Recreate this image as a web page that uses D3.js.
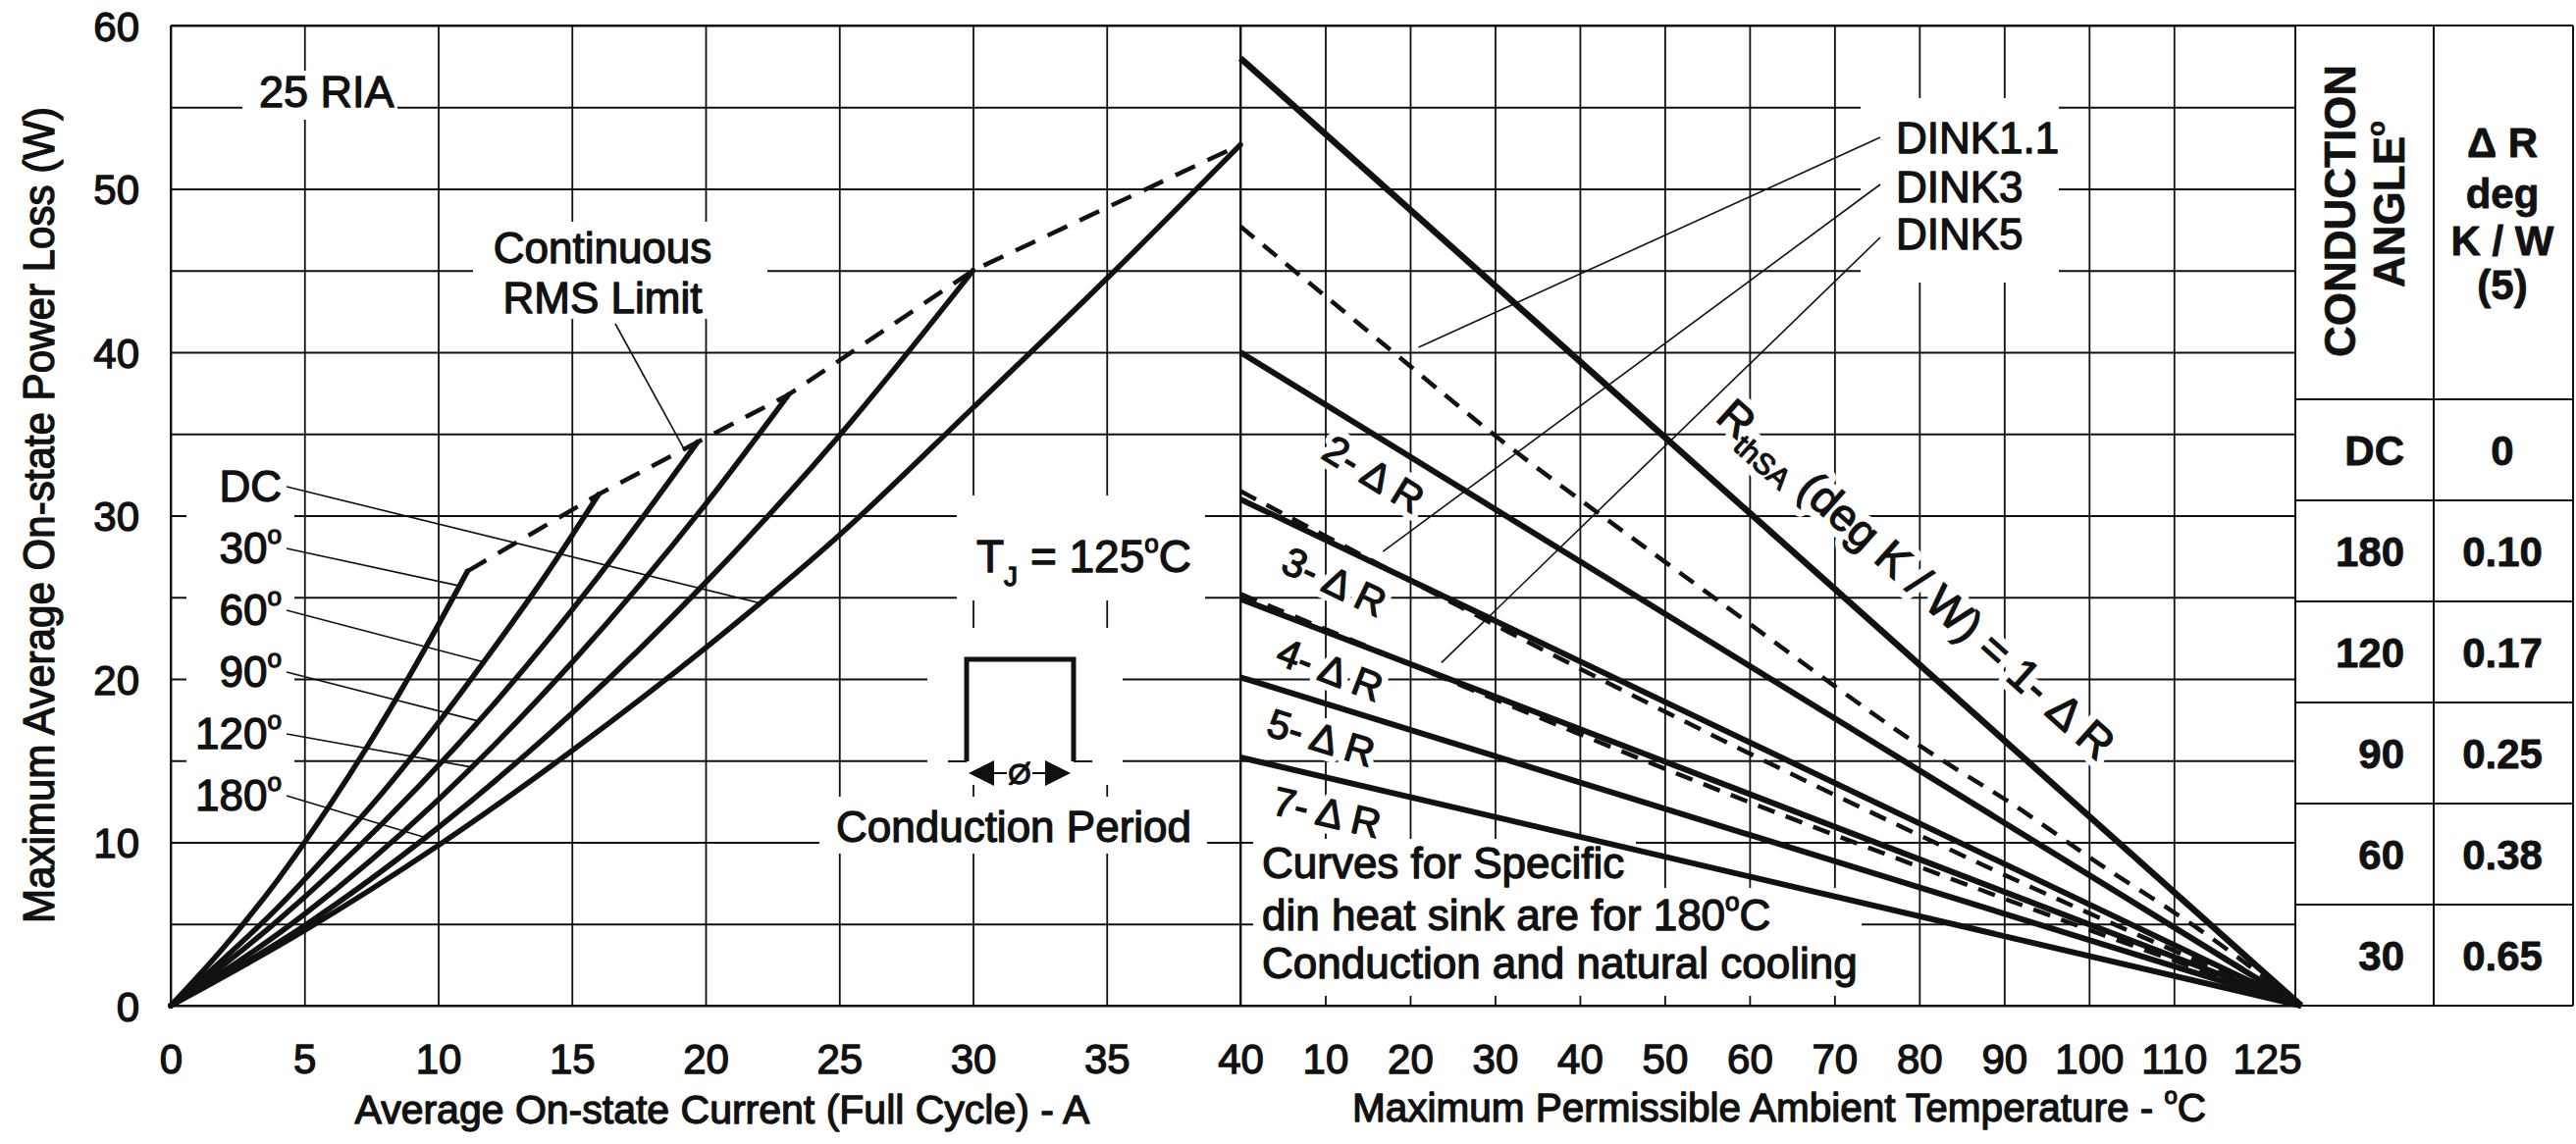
<!DOCTYPE html>
<html>
<head>
<meta charset="utf-8">
<script src="https://cdn.jsdelivr.net/npm/d3@7/dist/d3.min.js"></script>
<style>
html,body{margin:0;padding:0;background:#fff;}
svg{display:block;}
</style>
</head>
<body>
<svg id="chart" width="2625" height="1166"></svg>
<script>
// ======================= DATA =======================
// Left panel: Average on-state current (A) vs max average on-state power loss (W)
const currentGrid = [0, 5, 10, 15, 20, 25, 30, 35, 40];
const currentTickLabels = [0, 5, 10, 15, 20, 25, 30, 35, 40];
const powerGrid = [0, 5, 10, 15, 20, 25, 30, 35, 40, 45, 50, 55, 60];
const powerTickLabels = [0, 10, 20, 30, 40, 50, 60];

const angleNames = ["DC", "30", "60", "90", "120", "180"];
const lossDC  = [[0,0],[5,4.6],[10,9.8],[15,15.6],[20,21.9],[25,28.8],[30,36.6],[35,44.5],[40,52.7]];
const loss30  = [[0,0],[2,3.6],[4,7.7],[6,12.4],[8,17.6],[10,23.3],[11.1,26.6]];
const loss60  = [[0,0],[2,2.9],[4,6.0],[6,9.5],[8,13.2],[10,17.3],[12,21.7],[14,26.3],[16.0,31.3]];
const loss90  = [[0,0],[4,5.2],[8,11.3],[12,18.3],[16,26.3],[19.7,34.5]];
const loss120 = [[0,0],[5,5.6],[10,12.6],[15,21.0],[20,30.7],[23.1,37.4]];
const loss180 = [[0,0],[5,4.9],[10,10.9],[15,17.9],[20,25.9],[25,34.9],[30,45.0]];
const rmsLimit = [[11.1,26.6],[16.0,31.3],[19.7,34.5],[23.1,37.4],[30,45.0],[40,52.7]];
const angleLeaderCurrent = [22, 10.8, 11.7, 11.5, 11.2, 9.5];
const rmsLeaderCurrent = 19.2;

// Right panel: maximum permissible ambient temperature (°C)
const ambientGrid = [10, 20, 30, 40, 50, 60, 70, 80, 90, 100, 110];
const ambientTickValues = [10, 20, 30, 40, 50, 60, 70, 80, 90, 100, 110, 125];
const sinkMultipliers = ["1", "2", "3", "4", "5", "7"];
const sinkPowerAtZero = [58.0, 40.0, 31.0, 24.9, 20.1, 15.2];
const sinkZeroTemp = 125;
const dinkNames = ["DINK1.1", "DINK3", "DINK5"];
const dink11 = [[0,47.7],[19,39.6],[30,34.8],[42,30.2],[60,23.4],[80,15.7],[91,12.5],[101,8.6],[112,5.2],[125,0]];
const dink3  = [[0,31.5],[20,26.0],[40,20.6],[60,15.4],[80,10.4],[100,5.6],[125,0]];
const dink5  = [[0,25.2],[20,20.9],[40,16.6],[60,12.4],[80,8.5],[100,4.6],[125,0]];
const dinkLeaderEnds = [[21,40.3],[16.8,27.8],[23.7,21.0]];
const sinkLabelTemp = [17.8, 12.8, 12.0, 10.7, 11.1];

// Table
const tableAngles = ["DC", "180", "120", "90", "60", "30"];
const tableDeltaR = ["0", "0.10", "0.17", "0.25", "0.38", "0.65"];

// ======================= LAYOUT =======================
const FONT = '"Liberation Sans", Arial, Helvetica, sans-serif';
const INK = "#111";
const TW = 1.3; // text stroke for the heavy scanned look
const xL = d3.scaleLinear().domain([0, 40]).range([174, 1264]);
const xR = d3.scaleLinear().domain([0, 125]).range([1264, 2345]);
const y  = d3.scaleLinear().domain([0, 60]).range([1025, 26]);
const plotRight = 2339, tableMid = 2480, tableRight = 2622, headerBottom = 407;

const svg = d3.select("#chart");
svg.append("rect").attr("width", 2625).attr("height", 1166).attr("fill", "#fff");

function txt(parent, x, yy, str, size, anchor, weight) {
  return parent.append("text").attr("x", x).attr("y", yy)
    .attr("font-family", FONT).attr("font-size", size)
    .attr("font-weight", weight || "normal")
    .attr("text-anchor", anchor || "start")
    .attr("fill", INK).attr("stroke", INK).attr("stroke-width", TW)
    .attr("stroke-linejoin", "round")
    .text(str);
}
function sup(t, s, size, dy) {
  t.append("tspan").attr("font-size", size).attr("dy", dy).text(s);
}
function interp(pts, x) {
  for (let i = 1; i < pts.length; i++) {
    if (x <= pts[i][0]) {
      const [x0, y0] = pts[i-1], [x1, y1] = pts[i];
      return y0 + (y1 - y0) * (x - x0) / (x1 - x0);
    }
  }
  return pts[pts.length-1][1];
}

// ---------- grid ----------
const grid = svg.append("g");
grid.append("g").attr("transform", `translate(${xL(0)},0)`)
  .call(d3.axisLeft(y).tickValues(powerGrid).tickSize(-(plotRight - xL(0))).tickFormat(""))
  .call(g => g.select(".domain").remove());
grid.append("g").attr("transform", `translate(0,${y(0)})`)
  .call(d3.axisBottom(xL).tickValues(currentGrid).tickSize(-(y(0) - y(60))).tickFormat(""))
  .call(g => g.select(".domain").remove());
grid.append("g").attr("transform", `translate(0,${y(0)})`)
  .call(d3.axisBottom(xR).tickValues(ambientGrid).tickSize(-(y(0) - y(60))).tickFormat(""))
  .call(g => g.select(".domain").remove());
grid.selectAll("line").attr("stroke", INK).attr("stroke-width", 1.8);

// frame
const frame = svg.append("g").attr("stroke", INK).attr("stroke-width", 2).attr("fill", "none");
frame.append("line").attr("x1", xL(0)).attr("x2", tableRight).attr("y1", y(60)).attr("y2", y(60));
frame.append("line").attr("x1", xL(0)).attr("x2", tableRight).attr("y1", y(0)).attr("y2", y(0));
frame.append("line").attr("x1", xL(0)).attr("x2", xL(0)).attr("y1", y(60)).attr("y2", y(0));
frame.append("line").attr("x1", xL(40)).attr("x2", xL(40)).attr("y1", y(60)).attr("y2", y(0));

// ---------- knockouts (white label backgrounds) ----------
const knockouts = [
  [247, 72, 158, 50], [482, 226, 300, 99], [190, 462, 110, 373],
  [975, 505, 253, 107], [945, 640, 199, 160], [835, 812, 395, 58],
  [1896, 100, 202, 188], [1277, 855, 390, 50], [1277, 905, 620, 110]
];
svg.append("g").selectAll("rect").data(knockouts).join("rect")
  .attr("x", d => d[0]).attr("y", d => d[1]).attr("width", d => d[2]).attr("height", d => d[3])
  .attr("fill", "#fff");

// ---------- table ----------
const rowBand = d3.scaleBand().domain(tableAngles).range([headerBottom, y(0)]);
const tbl = svg.append("g");
tbl.append("g").attr("stroke", INK).attr("stroke-width", 2)
  .selectAll("line").data([plotRight, tableMid, tableRight]).join("line")
  .attr("x1", d => d).attr("x2", d => d).attr("y1", y(60)).attr("y2", y(0));
tbl.append("g").attr("stroke", INK).attr("stroke-width", 2)
  .selectAll("line").data(tableAngles).join("line")
  .attr("x1", plotRight).attr("x2", tableRight)
  .attr("y1", d => rowBand(d)).attr("y2", d => rowBand(d));
tableAngles.forEach((a, i) => {
  const cy = rowBand(a) + rowBand.bandwidth() / 2 + 15;
  txt(tbl, 2450, cy, a, 42, "end", "bold").attr("stroke-width", 0.8);
  txt(tbl, 2550, cy, tableDeltaR[i], 42, "middle", "bold").attr("stroke-width", 0.8);
});
txt(tbl, 0, 0, "CONDUCTION", 44, "middle", "bold").attr("stroke-width", 0.6)
  .attr("transform", "translate(2400,215) rotate(-90)");
{
  const t = txt(tbl, 0, 0, "ANGLE", 44, "middle", "bold").attr("stroke-width", 0.6)
    .attr("transform", "translate(2450,208) rotate(-90)");
  sup(t, "o", 26, -20);
}
["Δ R", "deg", "K / W", "(5)"].forEach((s, i) => {
  txt(tbl, 2550, [160, 212, 260, 305][i], s, 42, "middle", "bold").attr("stroke-width", 0.8);
});

// ---------- axes tick labels ----------
const axL = svg.append("g").attr("transform", `translate(${xL(0)},0)`)
  .call(d3.axisLeft(y).tickValues(powerTickLabels).tickSize(0));
axL.select(".domain").remove();
axL.selectAll("text").attr("x", -32).attr("dy", "0.36em");
const axB = svg.append("g").attr("transform", `translate(0,${y(0)})`)
  .call(d3.axisBottom(xL).tickValues(currentTickLabels).tickSize(0));
axB.select(".domain").remove();
axB.selectAll("text").attr("y", 69).attr("dy", null);
const axR = svg.append("g").attr("transform", `translate(0,${y(0)})`)
  .call(d3.axisBottom(xR).tickValues(ambientTickValues).tickSize(0).tickFormat(d3.format("d")));
axR.select(".domain").remove();
axR.selectAll("text").attr("y", 69).attr("dy", null)
  .attr("text-anchor", d => d === 125 ? "end" : "middle");
[axL, axB, axR].forEach(a => a.attr("font-family", FONT).attr("font-size", 42)
  .selectAll("text").attr("fill", INK).attr("stroke", INK).attr("stroke-width", TW));

// axis titles
txt(svg, 0, 0, "Maximum Average On-state Power Loss (W)", 45, "middle")
  .attr("textLength", 832).attr("lengthAdjust", "spacingAndGlyphs")
  .attr("transform", "translate(55,525) rotate(-90)");
txt(svg, 736, 1145, "Average On-state Current (Full Cycle) - A", 41, "middle");
{
  const t = txt(svg, 1813, 1143, "Maximum Permissible Ambient Temperature - ", 40.5, "middle");
  sup(t, "o", 24, -18);
  t.append("tspan").attr("dy", 18).text("C");
}

// ---------- right panel: halos for rotated labels ----------
const sinkLines = sinkPowerAtZero.map(p => [[0, p], [sinkZeroTemp, 0]]);
function lineAngle(p0) {
  return Math.atan2(y(0) - y(p0), xR(sinkZeroTemp) - xR(0));
}
function labelPos(p0, T, off) {
  const a = lineAngle(p0);
  const px = xR(T), py = y(p0 * (1 - T / sinkZeroTemp));
  return { x: px - Math.sin(a) * off, y: py + Math.cos(a) * off, deg: a * 180 / Math.PI };
}
const rot = svg.append("g");
function rthLabel() {
  const p = labelPos(sinkPowerAtZero[0], 52.2, -47);
  const t = rot.append("text").attr("font-family", FONT).attr("font-size", 46)
    .attr("transform", `translate(${p.x},${p.y}) rotate(${p.deg})`);
  t.append("tspan").text("R");
  t.append("tspan").attr("font-size", 30).attr("dy", 10).text("thSA");
  t.append("tspan").attr("dy", -10).text(` (deg K / W) = ${sinkMultipliers[0]}- Δ R`);
  return t;
}
function sinkLabel(i) {
  const p = labelPos(sinkPowerAtZero[i], sinkLabelTemp[i-1], 34);
  return rot.append("text").attr("font-family", FONT).attr("font-size", 41)
    .attr("text-anchor", "middle").attr("dy", "0.36em")
    .attr("transform", `translate(${p.x},${p.y}) rotate(${p.deg})`)
    .text(`${sinkMultipliers[i]}- Δ R`);
}
rthLabel().attr("fill", "#fff").attr("stroke", "#fff").attr("stroke-width", 16).attr("stroke-linejoin", "round");
for (let i = 1; i < sinkMultipliers.length; i++)
  sinkLabel(i).attr("fill", "#fff").attr("stroke", "#fff").attr("stroke-width", 14).attr("stroke-linejoin", "round");

// ---------- data lines ----------
const lineL = d3.line().x(d => xL(d[0])).y(d => y(d[1])).curve(d3.curveMonotoneX);
const lossCurves = [lossDC, loss30, loss60, loss90, loss120, loss180];
svg.append("g").selectAll("path").data(lossCurves).join("path")
  .attr("d", lineL).attr("fill", "none").attr("stroke", INK).attr("stroke-width", 5.5)
  .attr("stroke-linecap", "round");
svg.append("path").datum(rmsLimit)
  .attr("d", d3.line().x(d => xL(d[0])).y(d => y(d[1])))
  .attr("fill", "none").attr("stroke", INK).attr("stroke-width", 4.5).attr("stroke-dasharray", "22,14");

const lineR = d3.line().x(d => xR(d[0])).y(d => y(d[1]));
svg.append("g").selectAll("path").data(sinkLines).join("path")
  .attr("d", lineR).attr("fill", "none").attr("stroke", INK)
  .attr("stroke-width", (d, i) => i === 0 ? 6.5 : 6);
const lineRc = d3.line().x(d => xR(d[0])).y(d => y(d[1])).curve(d3.curveBasis);
svg.append("g").selectAll("path").data([dink11, dink3, dink5]).join("path")
  .attr("d", lineRc).attr("fill", "none").attr("stroke", INK).attr("stroke-width", 4.5)
  .attr("stroke-dasharray", "18,12");

// ---------- leaders ----------
const lead = svg.append("g").attr("stroke", INK).attr("stroke-width", 1.6);
angleNames.forEach((n, i) => {
  const ly = 511 + i * 63 - 15;
  const c = angleLeaderCurrent[i];
  lead.append("line").attr("x1", 292).attr("y1", ly)
    .attr("x2", xL(c)).attr("y2", y(interp(lossCurves[i], c)));
});
lead.append("line").attr("x1", 627).attr("y1", 330)
  .attr("x2", xL(rmsLeaderCurrent)).attr("y2", y(interp(rmsLimit, rmsLeaderCurrent)));
dinkLeaderEnds.forEach((e, i) => {
  lead.append("line").attr("x1", 1916).attr("y1", [140, 188, 242][i])
    .attr("x2", xR(e[0])).attr("y2", y(e[1]));
});

// ---------- rotated labels (ink) ----------
rthLabel().attr("fill", INK).attr("stroke", INK).attr("stroke-width", TW);
for (let i = 1; i < sinkMultipliers.length; i++)
  sinkLabel(i).attr("fill", INK).attr("stroke", INK).attr("stroke-width", TW);

// ---------- annotations ----------
const ann = svg.append("g");
txt(ann, 264, 109, "25 RIA", 45);
txt(ann, 614, 268, "Continuous", 44, "middle");
txt(ann, 614, 319, "RMS Limit", 44, "middle");
angleNames.forEach((n, i) => {
  const t = txt(ann, 287, 511 + i * 63, n, 44, "end");
  if (n !== "DC") sup(t, "o", 26, -20);
});
{
  const t = txt(ann, 995, 583, "T", 46);
  t.append("tspan").attr("font-size", 28).attr("dy", 14).text("J");
  t.append("tspan").attr("dy", -14).text(" = 125");
  sup(t, "o", 26, -20);
  t.append("tspan").attr("dy", 20).text("C");
}
// conduction period inset
ann.append("path").attr("d", "M985,776V672H1094V776").attr("fill", "none")
  .attr("stroke", INK).attr("stroke-width", 5);
ann.append("path").attr("d", "M966,776H985M1094,776H1113M1012,788H1026M1052,788H1067")
  .attr("stroke", INK).attr("stroke-width", 2);
ann.append("path").attr("d", "M987,788L1013,775L1013,801Z M1091,788L1065,775L1065,801Z").attr("fill", INK);
txt(ann, 1039, 799, "Ø", 30, "middle");
txt(ann, 1033, 858, "Conduction Period", 44, "middle");

dinkNames.forEach((n, i) => txt(ann, 1932, [156, 206, 254][i], n, 44));
txt(ann, 1286, 895, "Curves for Specific", 44);
{
  const t = txt(ann, 1286, 948, "din heat sink are for 180", 44);
  sup(t, "o", 26, -20);
  t.append("tspan").attr("dy", 20).text("C");
}
txt(ann, 1286, 997, "Conduction and natural cooling", 44);
</script>
</body>
</html>
